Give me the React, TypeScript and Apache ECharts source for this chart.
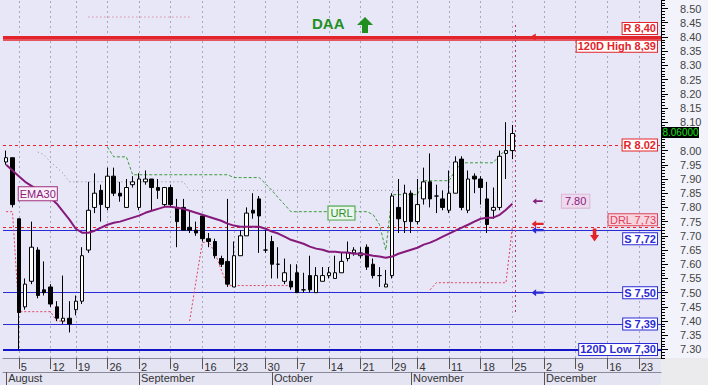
import React, { useEffect, useRef } from 'react';
import * as echarts from 'echarts';

// ---- categories (trading days) ----
const AUG_DAYS = [1, 2, 5, 6, 7, 8, 9, 12, 13, 14, 16, 19, 20, 21, 22, 23, 26, 27, 28, 29, 30];
const SEP_DAYS = [2, 3, 4, 5, 6, 9, 10, 11, 12, 13, 16, 17, 18, 19, 20, 23, 24, 25, 26, 27, 30];
const OCT_DAYS = [1, 2, 3, 4, 7, 8, 9, 10, 11, 14, 15, 16, 17, 18, 21, 22, 23, 24, 25, 29, 30, 31];
const NOV_DAYS = [1, 4, 5, 6, 7, 8, 11, 12, 13, 14, 15, 18, 19, 20, 21, 22, 25, 26, 27, 28, 29];
const DEC_DAYS = [2, 3, 4, 5, 6, 9, 10, 11, 12, 13, 16, 17, 18, 19, 20, 23, 24, 27, 30];
const MONTH_KEYS = ['08', '09', '10', '11', '12'];
const MONTH_NAMES = ['August', 'September', 'October', 'November', 'December'];
const DAYS_BY_MONTH = [AUG_DAYS, SEP_DAYS, OCT_DAYS, NOV_DAYS, DEC_DAYS];
const pad2 = (d: number) => (d < 10 ? '0' + d : '' + d);
const CATEGORIES: string[] = DAYS_BY_MONTH.flatMap((days, m) => days.map((d) => `2019-${MONTH_KEYS[m]}-${pad2(d)}`));
const MONTH_TICKS: string[] = DAYS_BY_MONTH.map((days, m) => `2019-${MONTH_KEYS[m]}-${pad2(days[0])}`);

// ---- tick labels ----
const WEEK_TICKS = [
  '2019-08-05', '2019-08-12', '2019-08-19', '2019-08-26',
  '2019-09-02', '2019-09-09', '2019-09-16', '2019-09-23', '2019-09-30',
  '2019-10-07', '2019-10-14', '2019-10-21', '2019-10-29',
  '2019-11-04', '2019-11-11', '2019-11-18', '2019-11-25',
  '2019-12-02', '2019-12-09', '2019-12-16', '2019-12-23',
];
const Y_LABELS = [7.3, 7.35, 7.4, 7.45, 7.5, 7.55, 7.6, 7.65, 7.7, 7.75, 7.8, 7.85, 7.9, 7.95, 8.0, 8.05, 8.1, 8.15, 8.2, 8.25, 8.3, 8.35, 8.4, 8.45, 8.5];
const Y_MIN = 7.27;
const Y_MAX = 8.53;

// ---- OHLC ----
const OPEN = [
  7.96, 7.975, 7.76, 7.45, 7.54, 7.65, 7.51, 7.52, 7.45, 7.40,
  7.41, 7.44, 7.47, 7.65, 7.80, 7.86, 7.80, 7.91, 7.85, 7.80,
  7.88, 7.80, 7.89, 7.90, 7.87, 7.81, 7.87, 7.80, 7.80, 7.73,
  7.72, 7.77, 7.69, 7.68, 7.62, 7.61, 7.52, 7.63, 7.70, 7.79,
  7.83, 7.65, 7.68, 7.60, 7.54, 7.54, 7.57, 7.51, 7.56, 7.50,
  7.54, 7.56, 7.55, 7.57, 7.62, 7.64, 7.63, 7.66, 7.60, 7.56,
  7.52, 7.56, 7.80, 7.75, 7.85, 7.75, 7.83, 7.89, 7.84, 7.83,
  7.79, 7.85, 7.97, 7.79, 7.91, 7.90, 7.83, 7.79, 7.80, 7.99, 8.00,
];
const CLOSE = [
  7.975, 7.81, 7.43, 7.53, 7.66, 7.49, 7.50, 7.46, 7.41, 7.41,
  7.39, 7.47, 7.63, 7.79, 7.85, 7.81, 7.91, 7.85, 7.84, 7.87,
  7.89, 7.90, 7.90, 7.87, 7.86, 7.87, 7.81, 7.75, 7.72, 7.72,
  7.71, 7.69, 7.68, 7.63, 7.60, 7.53, 7.63, 7.70, 7.78, 7.78,
  7.77, 7.65, 7.60, 7.60, 7.57, 7.52, 7.50, 7.51, 7.51, 7.56,
  7.56, 7.57, 7.57, 7.61, 7.64, 7.65, 7.64, 7.59, 7.56, 7.56,
  7.53, 7.84, 7.76, 7.85, 7.75, 7.81, 7.89, 7.83, 7.84, 7.80,
  7.85, 7.96, 7.80, 7.90, 7.90, 7.87, 7.74, 7.80, 7.98, 8.00, 8.06,
];
const HIGH = [
  8.00, 7.975, 7.76, 7.55, 7.75, 7.66, 7.61, 7.53, 7.47, 7.56,
  7.47, 7.49, 7.66, 7.89, 7.92, 7.88, 7.94, 7.94, 7.89, 7.90,
  7.91, 7.92, 7.93, 7.90, 7.90, 7.87, 7.88, 7.83, 7.83, 7.79,
  7.75, 7.77, 7.71, 7.69, 7.63, 7.83, 7.68, 7.72, 7.80, 7.85,
  7.84, 7.72, 7.70, 7.66, 7.62, 7.60, 7.60, 7.57, 7.63, 7.59,
  7.59, 7.59, 7.63, 7.64, 7.68, 7.66, 7.66, 7.67, 7.62, 7.59,
  7.58, 7.85, 7.90, 7.88, 7.86, 7.90, 7.94, 7.99, 7.88, 7.86,
  7.93, 7.98, 7.98, 7.93, 7.92, 7.91, 7.89, 7.87, 8.00, 8.10, 8.09,
];
const LOW = [
  7.95, 7.80, 7.30, 7.44, 7.53, 7.48, 7.49, 7.45, 7.40, 7.39,
  7.36, 7.42, 7.46, 7.64, 7.78, 7.75, 7.79, 7.84, 7.82, 7.80,
  7.87, 7.79, 7.88, 7.79, 7.83, 7.80, 7.80, 7.66, 7.72, 7.71,
  7.70, 7.68, 7.66, 7.62, 7.59, 7.52, 7.52, 7.63, 7.70, 7.76,
  7.64, 7.64, 7.55, 7.55, 7.53, 7.51, 7.50, 7.50, 7.50, 7.50,
  7.54, 7.55, 7.55, 7.57, 7.61, 7.63, 7.62, 7.58, 7.55, 7.52,
  7.52, 7.55, 7.71, 7.71, 7.71, 7.74, 7.81, 7.80, 7.78, 7.79,
  7.78, 7.85, 7.79, 7.78, 7.85, 7.81, 7.71, 7.76, 7.79, 7.90, 7.97,
];

// ---- indicators ----
const EMA30 = [
  7.95, 7.93, 7.91, 7.89, 7.876, 7.862, 7.848, 7.834, 7.813, 7.785,
  7.757, 7.725, 7.711, 7.711, 7.718, 7.729, 7.739, 7.746, 7.75, 7.757,
  7.764, 7.771, 7.781, 7.788, 7.795, 7.802, 7.802, 7.799, 7.795, 7.788,
  7.781, 7.774, 7.767, 7.76, 7.753, 7.743, 7.736, 7.732, 7.732, 7.732,
  7.732, 7.725, 7.715, 7.708, 7.697, 7.686, 7.679, 7.672, 7.662, 7.655,
  7.651, 7.644, 7.644, 7.641, 7.641, 7.637, 7.637, 7.634, 7.63, 7.627,
  7.623, 7.627, 7.637, 7.644, 7.651, 7.658, 7.669, 7.676, 7.686, 7.697,
  7.708, 7.718, 7.729, 7.739, 7.75, 7.76, 7.764, 7.764, 7.774, 7.792, 7.813,
];
const URL_LINE = [
  null, null, null, null, null, null, null, null, null, null,
  null, null, null, null, null, null, 8.013, 7.978, 7.978, 7.978,
  7.915, 7.915, 7.915, 7.915, 7.915, 7.915, 7.915, 7.915, 7.915, 7.915,
  7.915, 7.915, 7.915, 7.915, 7.915, 7.915, 7.905, 7.905, 7.905, 7.905,
  7.905, 7.883, 7.86, 7.834, 7.81, 7.785, 7.785, 7.785, 7.785, 7.785,
  7.785, 7.785, 7.785, 7.785, 7.785, 7.785, 7.785, 7.785, 7.775, 7.74,
  7.65, 7.845, 7.845, 7.845, 7.845, 7.845, 7.894, 7.894, 7.894, 7.894,
  7.894, 7.93, 7.957, 7.957, 7.957, 7.957, 7.957, 7.957, 7.985, 8.0, 8.0,
];
const DRL_LINE = [
  7.785, 7.785, 7.433, 7.433, 7.433, 7.433, 7.433, 7.433, 7.40, 7.40,
  7.40, null, null, null, null, null, null, null, null, null,
  null, null, null, null, null, null, null, null, null, 7.40,
  7.54, 7.676, 7.68, 7.64, 7.58, 7.525, 7.525, 7.525, 7.525, 7.525,
  7.525, 7.525, 7.525, 7.525, 7.525, 7.525, null, null, null, null,
  null, null, null, null, null, null, null, null, null, null,
  null, null, null, null, null, null, null, 7.51, 7.535, 7.535,
  7.535, 7.535, 7.535, 7.535, 7.535, 7.535, 7.535, 7.535, 7.535, 7.535, 7.73,
];
const GRAY_LINE = [
  null, null, null, null, null, 7.995, 7.985, 7.96, 7.94, 7.92,
  7.89, 7.89, 7.89, 7.89, 7.89, 7.89, 7.89, 7.89, 7.89, 7.89,
  7.89, 7.89, 7.89, 7.89, 7.89, 7.89, 7.89, 7.89, 7.89, 7.86,
  7.86, 7.86, 7.86, 7.86, 7.86, 7.86, 7.86, 7.86, 7.86, 7.86,
  7.86, 7.86, 7.86, 7.86, 7.86, 7.86, 7.86, 7.86, 7.86, 7.86,
  7.86, 7.86, 7.86, 7.86, 7.86, 7.86, 7.86, 7.86, 7.86, 7.86,
  7.86, 7.86, 7.86, null, null, null, null, null, null, null,
  null, null, null, null, null, null, null, null, null, null, null,
];
const UPPER_DOT = [
  null, null, null, null, null, null, null, null, null, null,
  null, null, null, 8.47, 8.47, 8.47, 8.47, 8.47, 8.47, 8.47,
  8.47, 8.47, 8.47, 8.47, 8.47, 8.47, 8.47, 8.47, 8.47, 8.47,
];

// ---- level lines ----
const LEVEL_VALUES = [8.40, 8.39, 8.02, 7.73, 7.72, 7.50, 7.39, 7.30];
const LEVEL_TEXTS = ['R 8,40', '120D High 8,39', 'R 8.02', 'DRL 7,73', 'S 7,72', 'S 7,50', 'S 7,39', '120D Low 7,30'];

// ---- annotations ----
const ARROW_DATE = '2019-11-29';
const ARROW_VALUES = [8.40, 7.822, 7.742, 7.72, 7.50];
const NOTE_DATE = '2019-12-09';
const NOTE_VALUE = 7.822;
const NOTE_TEXT = '7.80';
const DOWN_DATE = '2019-12-12';
const DOWN_VALUE = 7.703;
const EMA_LABEL_DATE = '2019-08-08';
const EMA_LABEL_VALUE = 7.848;
const URL_LABEL_DATE = '2019-10-16';
const URL_LABEL_VALUE = 7.78;
const TITLE = 'DAA';

const FONT = "'Liberation Sans', Arial, sans-serif";
const RED = '#E3242B';
const BLUE = '#2B2BD6';
const PINK = '#E0405A';
const PURPLE = '#87207A';
const GREEN = '#2E8E2E';

const LEVEL_STYLE: any[] = [
  { color: RED, width: 3, type: 'solid', pos: 'insideEndTop', gap: 3, bold: true, bg: '#ffffff', text: RED, border: RED },
  { color: RED, width: 1.5, type: 'solid', pos: 'insideEndBottom', gap: 1, bold: true, bg: '#ffffff', text: RED, border: RED },
  { color: RED, width: 1, type: [3, 3], pos: 'insideEnd', gap: 0, bold: true, bg: '#ffffff', text: RED, border: RED },
  { color: RED, width: 1, type: [3, 3], pos: 'insideEndTop', gap: 2, bold: false, bg: '#F7D5DF', text: PINK, border: PINK },
  { color: BLUE, width: 1, type: 'solid', pos: 'insideEndBottom', gap: 3, bold: true, bg: '#ffffff', text: BLUE, border: BLUE },
  { color: BLUE, width: 1, type: 'solid', pos: 'insideEnd', gap: 0, bold: true, bg: '#ffffff', text: BLUE, border: BLUE },
  { color: BLUE, width: 1, type: 'solid', pos: 'insideEnd', gap: 0, bold: true, bg: '#ffffff', text: BLUE, border: BLUE },
  { color: '#1515C8', width: 2, type: 'solid', pos: 'insideEnd', gap: 0, bold: true, bg: '#ffffff', text: BLUE, border: BLUE },
];
const ARROW_COLORS = [RED, PURPLE, RED, BLUE, BLUE];
const ARROW_SIZES = [[15, 7], [10, 6], [12, 7], [12, 7], [12, 7]];

const LEFT_ARROW = 'path://M0,5L6,0L6,3.5L16,3.5L16,6.5L6,6.5L6,10Z';
const DOWN_ARROW = 'path://M3,0L7,0L7,6L10,6L5,12L0,6L3,6Z';

function buildOption(): any {
  const weekSet = new Set(WEEK_TICKS);
  const monthSet = new Set(MONTH_TICKS);
  const minorTicks: number[] = [];
  for (let k = Math.round(Y_MIN * 100); k <= Math.round(Y_MAX * 100); k++) minorTicks.push(k / 100);
  const lastClose = CLOSE[CLOSE.length - 1];
  // the label hidden behind the last-price tag is left out, as in the reference
  const shownLabels = Y_LABELS.filter((v) => Math.abs(v - lastClose) > 0.025);

  const candleData = OPEN.map((o, i) => [o, CLOSE[i], LOW[i], HIGH[i]]);

  return {
    animation: false,
    backgroundColor: 'transparent',
    grid: { left: 3, right: 47, top: 0, bottom: 30, containLabel: false },
    xAxis: [
      {
        type: 'category', data: CATEGORIES, boundaryGap: true, position: 'bottom',
        axisLine: { show: true, lineStyle: { color: '#8a8a9a', width: 1 } },
        axisTick: { show: true, alignWithLabel: true, interval: (_i: number, v: string) => weekSet.has(v), length: 11, lineStyle: { color: '#555555' } },
        axisLabel: {
          show: true, interval: (_i: number, v: string) => weekSet.has(v),
          formatter: (v: string) => String(Number(v.slice(8))),
          align: 'left', padding: [0, 0, 0, 2], margin: 3, fontSize: 11, color: '#333333', fontFamily: FONT,
        },
        splitLine: { show: false },
      },
      {
        type: 'category', data: CATEGORIES, boundaryGap: true, position: 'bottom', offset: 14,
        axisLine: { show: true, lineStyle: { color: '#8a8a9a', width: 1 } },
        axisTick: { show: true, alignWithLabel: true, interval: (_i: number, v: string) => monthSet.has(v), length: 13, lineStyle: { color: '#555555' } },
        axisLabel: {
          show: true, interval: (_i: number, v: string) => monthSet.has(v),
          formatter: (v: string) => MONTH_NAMES[MONTH_KEYS.indexOf(v.slice(5, 7))],
          align: 'left', padding: [0, 0, 0, 2], margin: 0, fontSize: 11, color: '#333333', fontFamily: FONT,
        },
        splitLine: { show: false },
      },
    ],
    yAxis: [
      {
        type: 'value', position: 'right', min: Y_MIN, max: Y_MAX,
        axisLine: { show: true, lineStyle: { color: '#000000', width: 1 } },
        axisTick: { show: true, customValues: minorTicks, length: 4, lineStyle: { color: '#000000' } },
        axisLabel: { show: false },
        splitLine: { show: false },
      },
      {
        type: 'value', position: 'right', min: Y_MIN, max: Y_MAX,
        axisLine: { show: false },
        axisTick: { show: true, customValues: Y_LABELS, length: 7, lineStyle: { color: '#000000' } },
        axisLabel: {
          show: true, customValues: shownLabels, formatter: (v: number) => v.toFixed(2),
          margin: 19, fontSize: 11, color: '#444444', fontFamily: FONT,
        },
        splitLine: { show: false },
      },
    ],
    series: [
      {
        type: 'line', name: 'gray', data: GRAY_LINE, symbol: 'none', z: 2, silent: true,
        lineStyle: { color: '#8C8C9E', width: 1, type: [1, 3] },
        markLine: {
          silent: true, symbol: ['none', 'none'], z: 1, animation: false,
          label: { show: false },
          data: WEEK_TICKS.map((d) => ({ xAxis: d, lineStyle: { color: '#A8A8BE', width: 1, type: [2, 3] } })),
        },
      },
      {
        type: 'line', name: 'upper', data: UPPER_DOT, symbol: 'none', z: 2, silent: true,
        lineStyle: { color: '#E0607E', width: 1, type: [1, 3] },
      },
      {
        type: 'line', name: 'URL', data: URL_LINE, symbol: 'none', z: 3, silent: true,
        lineStyle: { color: '#3C9B3C', width: 1, type: [3, 2] },
        markPoint: {
          z: 7, symbol: 'rect', symbolSize: 1, itemStyle: { color: 'rgba(0,0,0,0)' },
          data: [{
            coord: [URL_LABEL_DATE, URL_LABEL_VALUE],
            label: {
              show: true, position: 'inside', formatter: 'URL', color: GREEN, backgroundColor: '#EAF7EA',
              borderColor: '#3E9E3E', borderWidth: 1, padding: [1, 2], fontSize: 11, fontFamily: FONT,
            },
          }],
        },
      },
      {
        type: 'line', name: 'DRL', data: DRL_LINE, symbol: 'none', z: 3, silent: true,
        lineStyle: { color: PINK, width: 1, type: [2, 2] },
      },
      {
        type: 'candlestick', name: 'DAA', data: candleData, barWidth: 4, z: 4,
        itemStyle: {
          color: '#ffffff', color0: '#000000', borderColor: '#000000', borderColor0: '#000000',
          borderColorDoji: '#000000', borderWidth: 1,
        },
        markLine: {
          silent: true, symbol: ['none', 'none'], z: 3, animation: false,
          data: LEVEL_VALUES.map((v, i) => {
            const s = LEVEL_STYLE[i];
            return {
              yAxis: v,
              lineStyle: { color: s.color, width: s.width, type: s.type },
              label: {
                show: true, position: s.pos, formatter: LEVEL_TEXTS[i], distance: [4, s.gap],
                color: s.text, backgroundColor: s.bg, borderColor: s.border, borderWidth: 1,
                padding: [0, 1], fontSize: 11, lineHeight: 11, fontWeight: s.bold ? 'bold' : 'normal', fontFamily: FONT,
              },
            };
          }),
        },
        markPoint: {
          z: 6,
          data: [
            ...ARROW_VALUES.map((v, i) => ({
              coord: [ARROW_DATE, v], symbol: LEFT_ARROW, symbolSize: ARROW_SIZES[i],
              itemStyle: { color: ARROW_COLORS[i] }, label: { show: false },
            })),
            {
              coord: [DOWN_DATE, DOWN_VALUE], symbol: DOWN_ARROW, symbolSize: [9, 13],
              itemStyle: { color: RED }, label: { show: false },
            },
            {
              coord: [NOTE_DATE, NOTE_VALUE], symbol: 'rect', symbolSize: 1, itemStyle: { color: 'rgba(0,0,0,0)' },
              label: {
                show: true, position: 'inside', formatter: NOTE_TEXT, color: PURPLE, backgroundColor: '#EFD9EE',
                borderColor: '#D9B6D6', borderWidth: 1, padding: [1, 3], fontSize: 11, fontFamily: FONT,
              },
            },
          ],
        },
      },
      {
        type: 'line', name: 'EMA30', data: EMA30, symbol: 'none', z: 5, silent: true,
        lineStyle: { color: '#86197A', width: 2 },
        markPoint: {
          z: 7, symbol: 'rect', symbolSize: 1, itemStyle: { color: 'rgba(0,0,0,0)' },
          data: [{
            coord: [EMA_LABEL_DATE, EMA_LABEL_VALUE],
            label: {
              show: true, position: 'inside', formatter: 'EMA30', color: PURPLE, backgroundColor: '#FBEFFA',
              borderColor: '#A0307E', borderWidth: 1, padding: [1, 1], fontSize: 11, fontFamily: FONT,
            },
          }],
        },
      },
    ],
  };
}

export default function App() {
  const ref = useRef<HTMLDivElement>(null);
  useEffect(() => {
    if (!ref.current) return;
    const chart = echarts.init(ref.current, null, { renderer: 'svg' });
    chart.setOption(buildOption());
    const px = (cat: string, v: number) => chart.convertToPixel({ gridIndex: 0 }, [cat, v]) as unknown as number[];
    const last = CLOSE.length - 1;
    const a = px(CATEGORIES[last], 8.442);
    const b = px(CATEGORIES[last + 1], 7.421);
    const xSep = (a[0] + b[0]) / 2;
    const tag = px(CATEGORIES[last], CLOSE[last]);
    const right = chart.getWidth() - 47;
    chart.setOption({
      graphic: [
        {
          type: 'line', silent: true, z: 8,
          shape: { x1: xSep, y1: a[1], x2: xSep, y2: b[1] },
          style: { stroke: '#B0307A', lineWidth: 1, lineDash: [2, 3] },
        },
        {
          type: 'rect', silent: true, z: 20,
          shape: { x: right + 1, y: tag[1] - 6.5, width: 37, height: 11 },
          style: { fill: '#000000' },
        },
        {
          type: 'text', silent: true, z: 21,
          x: right + 19.5, y: tag[1] - 1,
          style: { text: CLOSE[last].toFixed(5), fill: '#19E019', font: `10px ${FONT}`, align: 'center', verticalAlign: 'middle' },
        },
        {
          type: 'text', silent: true, z: 21, x: 312, y: 16,
          style: { text: TITLE, fill: '#1F8F1F', font: `bold 15px ${FONT}` },
        },
        {
          type: 'polygon', silent: true, z: 21,
          shape: { points: [[357, 25], [365, 17], [373, 25], [368, 25], [368, 33], [362, 33], [362, 25]] },
          style: { fill: '#1F8F1F' },
        },
      ],
    });
    return () => chart.dispose();
  }, []);
  return (
    <div style={{ position: 'fixed', left: 0, top: 0, width: 708, height: 388, background: '#ffffff', overflow: 'hidden' }}>
      <div style={{ position: 'absolute', left: 0, top: 0, width: 661, height: 358, background: '#E7E7F7' }} />
      <div style={{ position: 'absolute', left: 661, top: 0, width: 47, height: 358, background: '#F3F3FB' }} />
      <div style={{ position: 'absolute', left: 0, top: 358, width: 661, height: 27, background: '#E4E4F3' }} />
      <div style={{ position: 'absolute', left: 661, top: 358, width: 47, height: 27, background: '#EBEBEE' }} />
      <div ref={ref} style={{ position: 'absolute', left: 0, top: 0, width: 708, height: 388 }} />
    </div>
  );
}
